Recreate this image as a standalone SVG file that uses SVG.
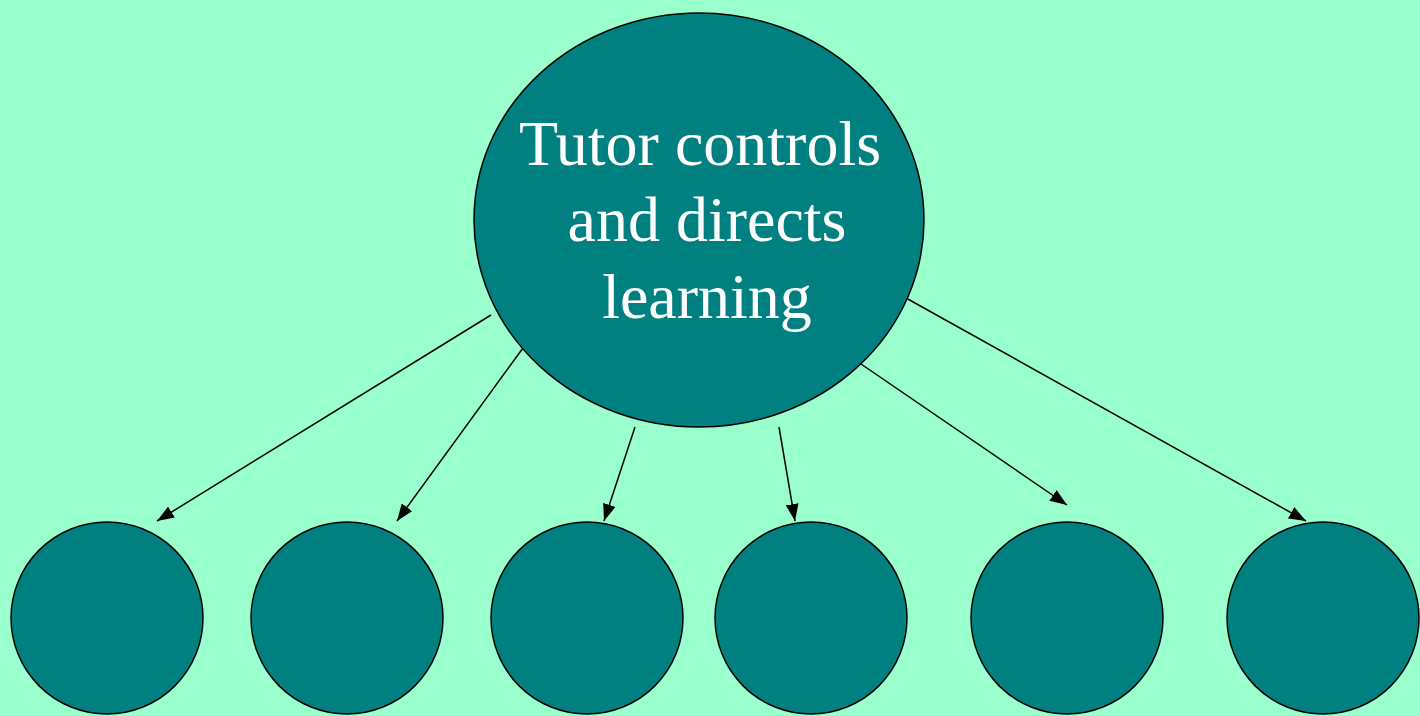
<svg xmlns="http://www.w3.org/2000/svg" width="1420" height="716" viewBox="0 0 1420 716">
<style>
.node{fill:#008080;stroke:#000;stroke-width:1.5}
.conn{stroke:#000;stroke-width:1.5;fill:none;marker-end:url(#ah)}
.lbl{font-family:"Liberation Serif","Times New Roman",serif;font-size:64px;fill:#fff;text-anchor:middle}
</style>
<defs>
<marker id="ah" viewBox="0 0 10 10" refX="10" refY="5" markerWidth="17" markerHeight="13" markerUnits="userSpaceOnUse" orient="auto" preserveAspectRatio="none">
<path d="M0,0 L10,5 L0,10 z" fill="#000"/>
</marker>
</defs>
<rect width="1420" height="716" fill="#99ffcc"/>
<g id="connectors">
<line class="conn" x1="491" y1="315" x2="157" y2="521"/>
<line class="conn" x1="523" y1="348" x2="397" y2="521"/>
<line class="conn" x1="635" y1="427" x2="604" y2="521"/>
<line class="conn" x1="779" y1="427" x2="795" y2="521"/>
<line class="conn" x1="861" y1="364" x2="1067" y2="505"/>
<line class="conn" x1="906" y1="298" x2="1306" y2="521"/>
</g>
<g id="tutor">
<ellipse class="node" cx="699" cy="220" rx="225" ry="207"/>
<text class="lbl" x="700" y="165">Tutor controls</text>
<text class="lbl" x="707" y="241">and directs</text>
<text class="lbl" x="707" y="318">learning</text>
</g>
<g id="learner1"><circle class="node" cx="107" cy="618" r="96"/></g>
<g id="learner2"><circle class="node" cx="347" cy="618" r="96"/></g>
<g id="learner3"><circle class="node" cx="587" cy="618" r="96"/></g>
<g id="learner4"><circle class="node" cx="811" cy="618" r="96"/></g>
<g id="learner5"><circle class="node" cx="1067" cy="618" r="96"/></g>
<g id="learner6"><circle class="node" cx="1323" cy="618" r="96"/></g>
</svg>
